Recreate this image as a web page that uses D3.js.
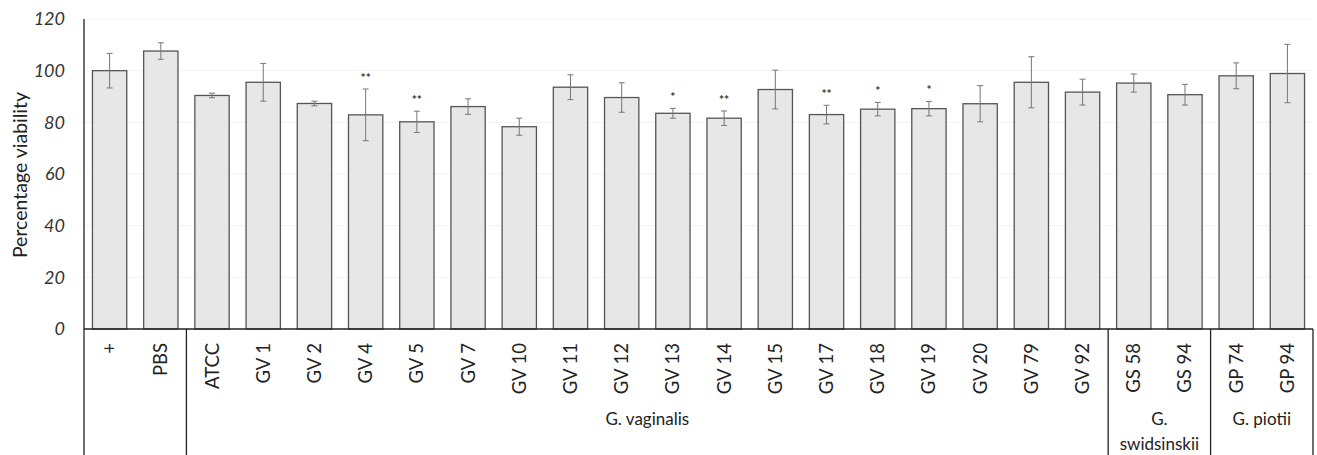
<!DOCTYPE html>
<html>
<head>
<meta charset="utf-8">
<script src="https://cdn.jsdelivr.net/npm/d3@7"></script>
<style>
  body { margin: 0; background: #fff; }
  svg { display: block; font-family: Lato, "Open Sans", sans-serif; }
</style>
</head>
<body>
<svg id="chart" width="1317" height="455"></svg>
<script>
// categories along the x axis
var categories = ["+", "PBS", "ATCC", "GV 1", "GV 2", "GV 4", "GV 5", "GV 7", "GV 10", "GV 11",
    "GV 12", "GV 13", "GV 14", "GV 15", "GV 17", "GV 18", "GV 19", "GV 20", "GV 79", "GV 92",
    "GS 58", "GS 94", "GP 74", "GP 94"];

// mean % viability and error (+/-)
var viability = [100, 107.6, 90.4, 95.5, 87.3, 82.9, 80.2, 86.1, 78.3, 93.6,
    89.6, 83.5, 81.6, 92.7, 83.0, 85.1, 85.3, 87.2, 95.5, 91.7,
    95.2, 90.7, 98.0, 98.9];
var errors = [6.7, 3.2, 0.9, 7.3, 0.9, 10.0, 4.1, 3.0, 3.3, 4.8,
    5.7, 1.9, 2.8, 7.5, 3.6, 2.6, 2.8, 7.0, 9.9, 5.0,
    3.5, 4.0, 5.0, 11.3];

// significance marks
var signif = ["", "", "", "", "", "**", "**", "", "", "",
    "", "*", "**", "", "**", "*", "*", "", "", "",
    "", "", "", ""];

// species groups: label lines, first and last category index
var groupNames = [[""], ["G. vaginalis"], ["G.", "swidsinskii"], ["G. piotii"]];
var groupStart = [0, 2, 20, 22];
var groupEnd = [1, 19, 21, 23];

var yTicks = [0, 20, 40, 60, 80, 100, 120];

var svg = d3.select("#chart");
var plotLeft = 84, plotRight = 1313, plotTop = 19, plotBottom = 329, tableBottom = 455;

var x = d3.scaleBand()
    .domain(categories)
    .range([plotLeft, plotRight])
    .paddingInner(0.33)
    .paddingOuter(0.165);

var y = d3.scaleLinear()
    .domain([0, 120])
    .range([plotBottom, plotTop]);

// faint gridlines
svg.append("g")
    .selectAll("line")
    .data(yTicks.slice(1))
    .enter()
    .append("line")
    .attr("x1", plotLeft).attr("x2", plotRight)
    .attr("y1", function(d){return y(d)}).attr("y2", function(d){return y(d)})
    .attr("stroke", "#f2f2f2")
    .attr("stroke-width", 1);

// y tick labels
svg.append("g")
    .selectAll("text")
    .data(yTicks)
    .enter()
    .append("text")
    .attr("x", 65)
    .attr("y", function(d){return y(d)})
    .attr("dy", "0.35em")
    .attr("text-anchor", "end")
    .attr("font-size", 18)
    .attr("font-style", "italic")
    .attr("fill", "#333")
    .text(function(d){return d});

svg.append("text")
    .attr("transform", "translate(27," + 175 + ") rotate(-90)")
    .attr("text-anchor", "middle")
    .attr("font-size", 19.5)
    .attr("fill", "#222")
    .text("Percentage viability");

var idx = d3.range(categories.length);

// bars
svg.append("g")
    .selectAll("rect")
    .data(idx)
    .enter()
    .append("rect")
    .attr("x", function(i){return x(categories[i])})
    .attr("y", function(i){return y(viability[i])})
    .attr("width", x.bandwidth())
    .attr("height", function(i){return y(0) - y(viability[i])})
    .attr("fill", "#e7e7e7")
    .attr("stroke", "#555")
    .attr("stroke-width", 1.3);

// error bars
var eb = svg.append("g").attr("stroke", "#777").attr("stroke-width", 1);
idx.forEach(function(i) {
    var cx = x(categories[i]) + x.bandwidth() / 2;
    var hi = y(viability[i] + errors[i]), lo = y(viability[i] - errors[i]);
    eb.append("line").attr("x1", cx).attr("x2", cx).attr("y1", hi).attr("y2", lo);
    eb.append("line").attr("x1", cx - 3).attr("x2", cx + 3).attr("y1", hi).attr("y2", hi);
    eb.append("line").attr("x1", cx - 3).attr("x2", cx + 3).attr("y1", lo).attr("y2", lo);
});

// asterisks
svg.append("g")
    .selectAll("text")
    .data(idx.filter(function(i){return signif[i]}))
    .enter()
    .append("text")
    .attr("x", function(i){return x(categories[i]) + x.bandwidth() / 2})
    .attr("y", function(i){return y(viability[i] + errors[i]) - 7})
    .attr("text-anchor", "middle")
    .attr("font-size", 12)
    .attr("font-weight", "bold")
    .attr("fill", "#333")
    .text(function(i){return signif[i]});

// axis + category table lines
var lines = svg.append("g").attr("stroke", "#222").attr("stroke-width", 1.3);
lines.append("line").attr("x1", plotLeft).attr("x2", plotRight).attr("y1", y(0)).attr("y2", y(0));
lines.append("line").attr("x1", plotLeft).attr("x2", plotLeft).attr("y1", plotTop).attr("y2", tableBottom);

var step = x.step();
groupEnd.forEach(function(e) {
    var gx = x(categories[e]) + x.bandwidth() + step * x.paddingInner() / 2;
    if (e == categories.length - 1) gx = plotRight;
    lines.append("line").attr("x1", gx).attr("x2", gx).attr("y1", y(0)).attr("y2", tableBottom);
});

// category labels
svg.append("g")
    .selectAll("text")
    .data(categories)
    .enter()
    .append("text")
    .attr("transform", function(d){
        return "translate(" + (x(d) + x.bandwidth() / 2) + "," + 343 + ") rotate(-90)";
    })
    .attr("dy", "0.35em")
    .attr("text-anchor", "end")
    .attr("font-size", 18.5)
    .attr("fill", "#222")
    .text(function(d){return d});

// group labels
groupNames.forEach(function(lns, g) {
    var gx0 = x(categories[groupStart[g]]), gx1 = x(categories[groupEnd[g]]) + x.bandwidth();
    var t = svg.append("text")
        .attr("text-anchor", "middle")
        .attr("font-size", 17)
        .attr("fill", "#222");
    lns.forEach(function(s, k) {
        t.append("tspan")
            .attr("x", (gx0 + gx1) / 2)
            .attr("y", 425 + k * 25)
            .text(s);
    });
});
</script>
</body>
</html>
